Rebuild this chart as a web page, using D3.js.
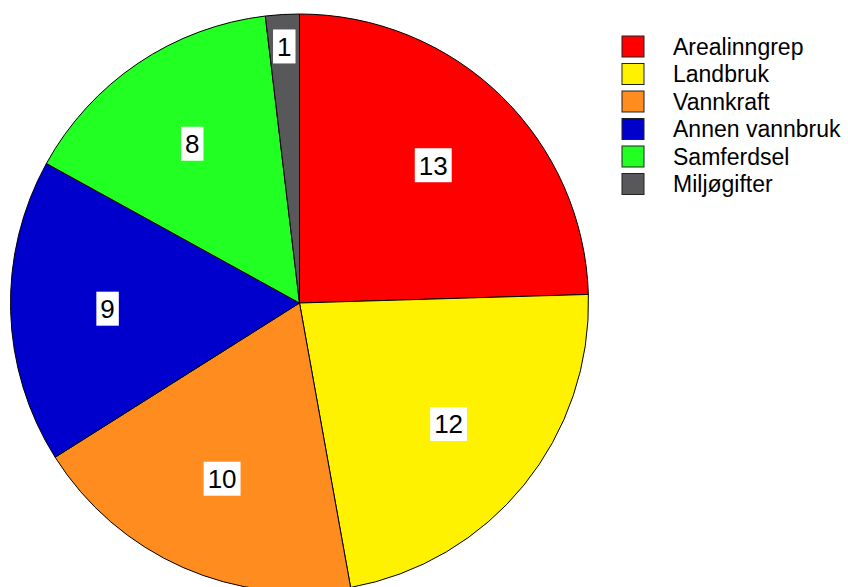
<!DOCTYPE html>
<html>
<head>
<meta charset="utf-8">
<script src="https://cdn.jsdelivr.net/npm/d3@7"></script>
<style>
    body { margin: 0; background: #fff; }
    svg { display: block; font-family: "Liberation Sans", Arial, sans-serif; }
</style>
</head>
<body>
<svg id="chart" width="848" height="587"></svg>
<script>
// chart data
const categories = ['Arealinngrep', 'Landbruk', 'Vannkraft', 'Annen vannbruk', 'Samferdsel', 'Miljøgifter'];
const values = [13, 12, 10, 9, 8, 1];
const colors = ['#ff0000', '#fff200', '#ff8c1e', '#0000cd', '#22ff22', '#58585a'];

const svg = d3.select('#chart');
const cx = 299.5, cy = 303, radius = 289;

const data = categories.map((c, i) => ({name: c, value: values[i], color: colors[i]}));

const pie = d3.pie()
    .value(d => d.value)
    .sort(null);

const arc = d3.arc()
    .innerRadius(0)
    .outerRadius(radius);

// small slices get their label pushed toward the rim
const total = d3.sum(values);
const labelArc = d => {
    const r = d.data.value / total < 0.05 ? 257 : 192;
    return d3.arc().innerRadius(r).outerRadius(r).centroid(d);
};

const g = svg.append('g')
    .attr('transform', 'translate(' + cx + ',' + cy + ')');

const arcs = pie(data);

g.selectAll('path.slice')
    .data(arcs)
  .enter().append('path')
    .attr('class', 'slice')
    .attr('d', arc)
    .attr('fill', d => d.data.color)
    .attr('stroke', '#000')
    .attr('stroke-width', 1);

const labels = g.selectAll('g.label')
    .data(arcs)
  .enter().append('g')
    .attr('class', 'label')
    .attr('transform', d => 'translate(' + labelArc(d) + ')');

labels.append('text')
    .attr('text-anchor', 'middle')
    .attr('dy', '0.36em')
    .style('font-size', '26px')
    .attr('fill', '#000')
    .text(d => d.data.value);

labels.each(function() {
    const t = d3.select(this).select('text');
    const b = t.node().getBBox();
    d3.select(this).insert('rect', 'text')
        .attr('x', b.x - 4)
        .attr('y', -17)
        .attr('width', b.width + 8)
        .attr('height', 34)
        .attr('fill', '#fff');
});

// legend
const legend = svg.append('g')
    .attr('transform', 'translate(622,36)');

const rowH = 27.5;

const items = legend.selectAll('g.item')
    .data(data)
  .enter().append('g')
    .attr('class', 'item')
    .attr('transform', (d, i) => 'translate(0,' + (i * rowH) + ')');

items.append('rect')
    .attr('width', 22)
    .attr('height', 21)
    .attr('fill', d => d.color)
    .attr('stroke', '#222')
    .attr('stroke-width', 1);

items.append('text')
    .attr('x', 51)
    .attr('y', 10.5)
    .attr('dy', '0.36em')
    .style('font-size', '23px')
    .attr('fill', '#000')
    .text(d => d.name);
</script>
</body>
</html>
